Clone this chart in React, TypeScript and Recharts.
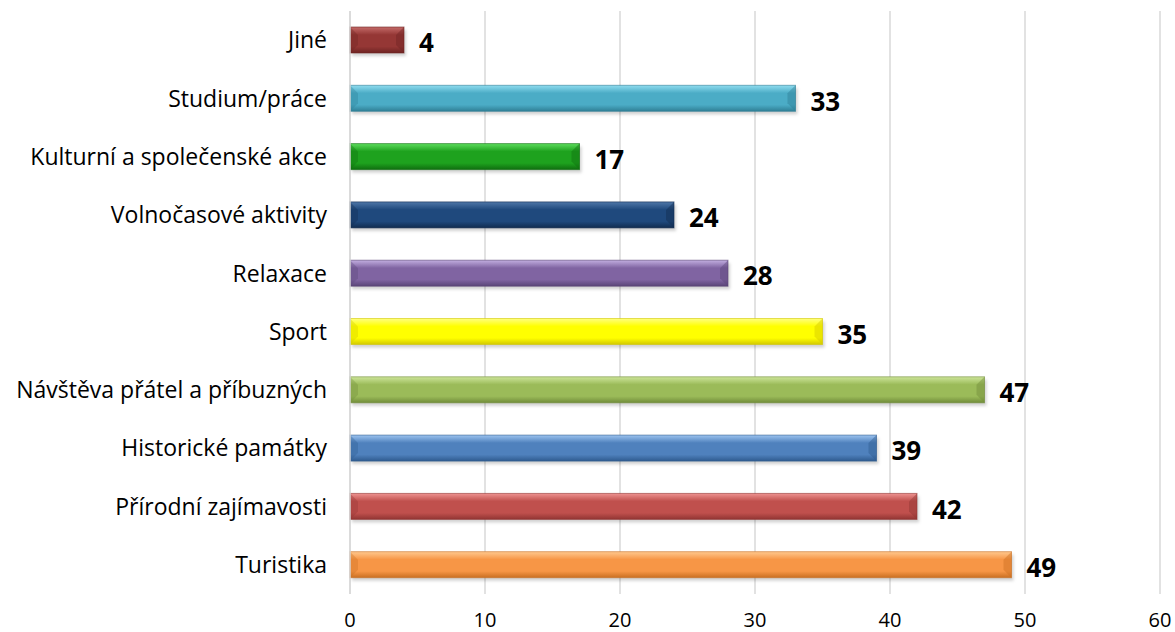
import React from 'react';
import { BarChart, Bar, XAxis, YAxis, CartesianGrid, Cell, LabelList } from 'recharts';

const categories = [
  'Jiné',
  'Studium/práce',
  'Kulturní a společenské akce',
  'Volnočasové aktivity',
  'Relaxace',
  'Sport',
  'Návštěva přátel a příbuzných',
  'Historické památky',
  'Přírodní zajímavosti',
  'Turistika',
];
const values = [4, 33, 17, 24, 28, 35, 47, 39, 42, 49];
const colors = [
  ['#c46b69', '#953735', '#6e2423'],
  ['#8fdcef', '#4bacc6', '#2f7f95'],
  ['#5ddc5d', '#1ea21e', '#0f6e0f'],
  ['#4f77a8', '#1f497d', '#112c50'],
  ['#c2aee0', '#8064a2', '#5a4577'],
  ['#ffff80', '#ffff00', '#d2c800'],
  ['#cde59a', '#9bbb59', '#718c3a'],
  ['#9cc3f0', '#4f81bd', '#2f5b8f'],
  ['#ee9391', '#c0504d', '#913533'],
  ['#ffc98f', '#f79646', '#c96f22'],
];
const xTicks = [0, 10, 20, 30, 40, 50, 60];

const data = categories.map((name, i) => ({ name, value: values[i], idx: i }));

const BevelBar = (props: any) => {
  const { x, y, width, height, payload } = props;
  const i = payload.idx;
  const b = Math.min(8, width / 2, height / 2);
  const c = colors[i];
  return (
    <g>
      <rect x={x + 2} y={y + 3} width={width} height={height} fill="rgba(0,0,0,0.18)" filter="url(#blur)" />
      <rect x={x} y={y} width={width} height={height} fill={`url(#g${i})`} stroke={c[2]} strokeOpacity={0.6} strokeWidth={1} />
      <polygon points={`${x},${y} ${x + b},${y + b} ${x + b},${y + height - b} ${x},${y + height}`} fill={c[2]} opacity={0.35} />
      <polygon points={`${x + width},${y} ${x + width - b},${y + b} ${x + width - b},${y + height - b} ${x + width},${y + height}`} fill={c[2]} opacity={0.45} />
    </g>
  );
};

export default function App() {
  return (
    <div
      style={{
        position: 'absolute',
        left: 0,
        top: 0,
        width: 1175,
        height: 632,
        fontFamily: '"Open Sans", "Noto Sans", sans-serif',
        background: '#fff',
      }}
    >
      <BarChart
        width={1175}
        height={632}
        data={data}
        layout="vertical"
        margin={{ top: 11, right: 15, bottom: 0, left: 0 }}
        barCategoryGap={0}
      >
        <defs>
          <filter id="blur" x="-10%" y="-50%" width="120%" height="200%">
            <feGaussianBlur stdDeviation="1.5" />
          </filter>
          {colors.map((c, i) => (
            <linearGradient key={i} id={`g${i}`} x1="0" y1="0" x2="0" y2="1">
              <stop offset="0%" stopColor={c[0]} />
              <stop offset="30%" stopColor={c[1]} />
              <stop offset="75%" stopColor={c[1]} />
              <stop offset="100%" stopColor={c[2]} />
            </linearGradient>
          ))}
        </defs>
        <CartesianGrid horizontal={false} stroke="#d9d9d9" strokeWidth={1.5} />
        <XAxis
          type="number"
          domain={[0, 60]}
          ticks={xTicks}
          axisLine={false}
          tickLine={false}
          tickMargin={13}
          height={38}
          tick={{ fill: '#000', fontSize: 20 }}
          interval={0}
        />
        <YAxis
          type="category"
          dataKey="name"
          width={350}
          axisLine={{ stroke: '#d9d9d9', strokeWidth: 1.5 }}
          tickLine={false}
          tickMargin={17}
          tick={{ fill: '#000', fontSize: 23 }}
          interval={0}
        />
        <Bar dataKey="value" barSize={26} isAnimationActive={false} shape={BevelBar}>
          {data.map((d, i) => (
            <Cell key={i} fill={colors[i][1]} />
          ))}
          <LabelList
            dataKey="value"
            position="right"
            offset={15}
            style={{ fill: '#000', fontSize: 26, fontWeight: 'bold' }}
            dy={3}
          />
        </Bar>
      </BarChart>
    </div>
  );
}
